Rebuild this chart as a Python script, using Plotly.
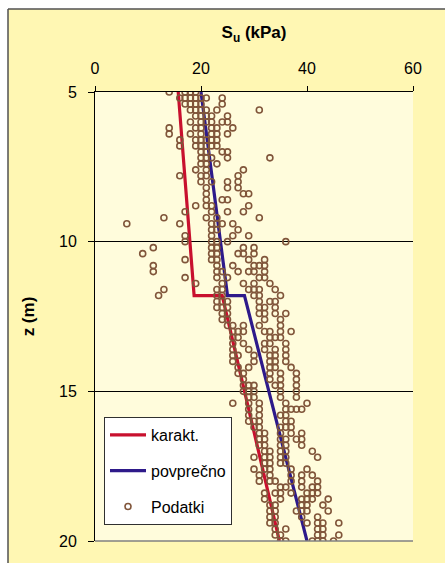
import plotly.graph_objects as go

# Characteristic undrained shear strength profile (kPa vs depth in m)
karakt_z = [5.0, 11.8, 11.8, 20.0]
karakt_su = [15.7, 18.7, 24.0, 34.8]

# Mean profile
povprecno_z = [5.0, 11.8, 11.8, 20.0]
povprecno_su = [20.0, 25.0, 28.2, 40.0]

# Measured data: one depth per row, with all Su values measured at that depth
podatki_depths = [
    5.0, 5.2, 5.4, 5.6, 5.8, 6.0, 6.2, 6.4, 6.6, 6.8,
    7.0, 7.2, 7.4, 7.6, 7.8, 8.0, 8.2, 8.4, 8.6, 8.8,
    9.0, 9.2, 9.4, 9.6, 9.8, 10.0, 10.2, 10.4, 10.6, 10.8,
    11.0, 11.2, 11.4, 11.6, 11.8, 12.0, 12.2, 12.4, 12.6, 12.8,
    13.0, 13.2, 13.4, 13.6, 13.8, 14.0, 14.2, 14.4, 14.6, 14.8,
    15.0, 15.2, 15.4, 15.6, 15.8, 16.0, 16.2, 16.4, 16.6, 16.8,
    17.0, 17.2, 17.4, 17.6, 17.8, 18.0, 18.2, 18.4, 18.6, 18.8,
    19.0, 19.2, 19.4, 19.6, 19.8, 20.0,
]
podatki_su_rows = [
    [14, 17, 18, 19],
    [16, 17, 18, 19, 20, 21, 24],
    [17, 18, 19, 20, 24],
    [18, 19, 20, 21, 23, 31],
    [19, 20, 21, 22, 25],
    [18, 20, 21, 22, 24, 25],
    [14, 19, 20, 22, 23, 26],
    [14, 18, 20, 22, 23, 25],
    [16, 19, 20, 21, 22, 23],
    [16, 19, 20, 21, 22, 23],
    [20, 21, 24, 25],
    [20, 21, 22, 25, 33],
    [20, 21, 23],
    [19, 21, 28],
    [16, 20, 21, 27],
    [20, 22, 25, 27],
    [21, 25, 27],
    [21, 28, 29],
    [21, 24, 25],
    [19, 21, 22, 29],
    [17, 22, 25, 28],
    [13, 21, 23, 31],
    [6, 16, 22, 23, 24, 26],
    [22, 23, 27],
    [17, 22, 26, 29],
    [17, 22, 23, 25, 36],
    [11, 22, 23, 28, 30],
    [9, 22, 23, 27, 28, 30],
    [17, 22, 23, 29, 32],
    [11, 23, 26, 30, 31, 32],
    [11, 23, 24, 27, 29, 30, 32],
    [17, 23, 25, 31, 32],
    [19, 24, 28, 30, 33],
    [13, 23, 24, 29, 30, 31, 34],
    [12, 23, 24, 30, 31, 35],
    [23, 24, 25, 31, 33, 34],
    [23, 24, 25, 31, 32, 34],
    [24, 25, 31, 32, 34, 36],
    [24, 25, 32, 35],
    [25, 26, 28, 31, 35],
    [26, 27, 28, 32, 33, 35, 37],
    [26, 27, 33, 34, 35],
    [26, 28, 32, 33, 36],
    [26, 29, 32, 34, 36],
    [26, 27, 30, 33, 34, 36],
    [26, 30, 33, 34, 36],
    [27, 29, 33, 34, 37],
    [27, 28, 33, 35, 38],
    [28, 33, 35, 38],
    [28, 29, 30, 34, 35, 38],
    [28, 29, 30, 35, 38],
    [29, 30, 35, 38],
    [26, 29, 31, 36, 40],
    [29, 31, 36, 37, 38, 39],
    [29, 31, 35, 36],
    [29, 30, 31, 36, 37],
    [30, 31, 35, 36, 37],
    [31, 32, 35, 37, 39],
    [31, 32, 35, 36, 38, 39],
    [31, 32, 35, 36, 39],
    [32, 33, 35, 36, 41],
    [30, 32, 33, 35, 36, 42],
    [32, 33, 35, 36],
    [30, 32, 33, 37, 40],
    [31, 33, 37, 39, 41],
    [31, 33, 34, 37, 39, 42],
    [35, 36, 39, 41, 42],
    [32, 34, 35, 37, 40, 41, 42],
    [32, 35, 39, 40, 41, 44],
    [33, 34, 39, 40, 43],
    [33, 34, 38, 39, 40, 44],
    [33, 34, 39, 42],
    [33, 34, 40, 42, 43, 46],
    [34, 36, 42, 43],
    [34, 35, 42, 43, 46],
    [35, 36, 41, 42, 43, 45],
]

x_ticks = [0, 20, 40, 60]
z_ticks = [5, 10, 15, 20]

pod_z = []
pod_su = []
for depth, values in zip(podatki_depths, podatki_su_rows):
    for v in values:
        pod_z.append(depth)
        pod_su.append(v)

FONT = "Liberation Sans, Arial, sans-serif"
OUTER_BG = "#FFF7B3"
PLOT_BG = "#FFFCDC"

fig = go.Figure()
fig.add_trace(go.Scatter(
    x=karakt_su, y=karakt_z, mode="lines", name="karakt.",
    legendgroup="a", line=dict(color="#C8102E", width=3.2),
))
fig.add_trace(go.Scatter(
    x=povprecno_su, y=povprecno_z, mode="lines", name="povprečno",
    legendgroup="b", line=dict(color="#2E1A8A", width=3.2),
))
fig.add_trace(go.Scatter(
    x=pod_su, y=pod_z, mode="markers", name="Podatki",
    legendgroup="c",
    marker=dict(symbol="circle-open", size=6, color="#80553A",
                line=dict(width=1.6, color="#80553A")),
))

# plot area spans pixels x 95..413, y 92..541
L, R, T, B = 95, 32, 92, 22
W, H = 445, 563
pw, ph = W - L - R, H - T - B


def px(xpix):
    return (xpix - L) / pw


def py(ypix):
    return (H - B - ypix) / ph


shapes = [
    # white margin left of and above the framed panel
    dict(type="rect", xref="paper", yref="paper", x0=px(-5), x1=px(8),
         y0=py(580), y1=py(-5), fillcolor="white", line=dict(width=0),
         layer="below"),
    dict(type="rect", xref="paper", yref="paper", x0=px(-5), x1=px(460),
         y0=py(9), y1=py(-5), fillcolor="white", line=dict(width=0),
         layer="below"),
    # panel frame
    dict(type="line", xref="paper", yref="paper", x0=px(8), x1=px(8),
         y0=py(580), y1=py(9), line=dict(color="#505050", width=1.5)),
    dict(type="line", xref="paper", yref="paper", x0=px(8), x1=px(460),
         y0=py(9), y1=py(9), line=dict(color="#505050", width=1.5)),
    # bottom edge of the plot area
    dict(type="line", xref="paper", yref="paper", x0=0, x1=1,
         y0=0, y1=0, line=dict(color="#808080", width=1.5)),
]

fig.update_layout(
    width=W, height=H, autosize=False,
    margin=dict(l=L, r=R, t=T, b=B, pad=0),
    paper_bgcolor=OUTER_BG, plot_bgcolor=PLOT_BG,
    font=dict(family=FONT, color="black", size=16),
    showlegend=True,
    legend=dict(
        x=px(104), y=py(417), xanchor="left", yanchor="top",
        bgcolor="white", bordercolor="#303030", borderwidth=1,
        font=dict(family=FONT, size=16, color="black"),
        tracegroupgap=12, traceorder="grouped", itemwidth=36,
    ),
    shapes=shapes,
    xaxis=dict(
        side="top", range=[0, 60], tickvals=x_ticks,
        ticks="outside", ticklen=5, tickcolor="black", tickwidth=1,
        showline=True, linecolor="black", linewidth=1,
        showgrid=False, zeroline=False,
        tickfont=dict(family=FONT, size=16),
        ticklabelstandoff=6,
        title=dict(text="<b>S<sub>u</sub> (kPa)</b>",
                   font=dict(family=FONT, size=17), standoff=16),
    ),
    yaxis=dict(
        range=[20, 5], tickvals=z_ticks,
        ticks="outside", ticklen=6, tickcolor="black", tickwidth=1,
        showline=True, linecolor="black", linewidth=1,
        showgrid=True, gridcolor="black", gridwidth=1,
        zeroline=False,
        tickfont=dict(family=FONT, size=16),
        ticklabelstandoff=8,
        title=dict(text="<b>z (m)</b>",
                   font=dict(family=FONT, size=17), standoff=20),
    ),
)

fig.write_html("out.html")
